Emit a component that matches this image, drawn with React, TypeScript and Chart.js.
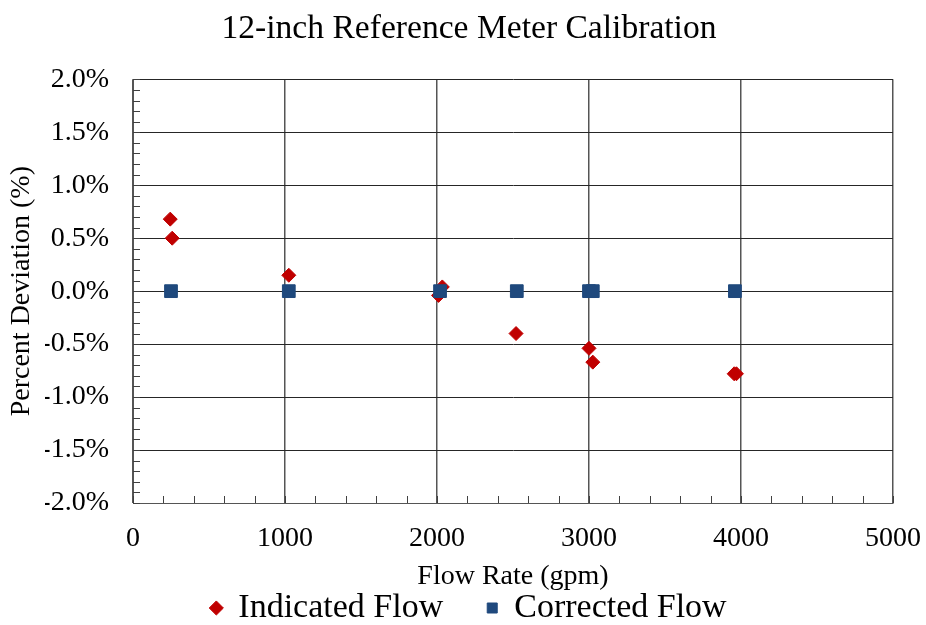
import React, { useEffect, useRef } from 'react';
import { Chart, registerables } from 'chart.js';

Chart.register(...registerables);

const TITLE = '12-inch Reference Meter Calibration';
const X_TITLE = 'Flow Rate (gpm)';
const Y_TITLE = 'Percent Deviation (%)';
const SERIES_NAMES = ['Indicated Flow', 'Corrected Flow'];

const indicatedFlow = [245, 258, 1025, 2010, 2035, 2520, 3000, 3025, 3955, 3970];
const indicatedDev = [0.68, 0.5, 0.15, -0.04, 0.04, -0.4, -0.54, -0.67, -0.78, -0.78];
const correctedFlow = [250, 1025, 2020, 2525, 3000, 3025, 3960];
const correctedDev = [0, 0, 0, 0, 0, 0, 0];

const X_MIN = 0;
const X_MAX = 5000;
const X_STEP = 1000;
const X_MINOR = 200;
const Y_MIN = -2;
const Y_MAX = 2;
const Y_STEP = 0.5;
const Y_MINOR = 0.1;

const FONT = '"Liberation Serif", "Times New Roman", serif';

const minorTicks = {
  id: 'minorTicks',
  afterDatasetsDraw(chart: any) {
    const { ctx, chartArea, scales } = chart;
    const x = scales.x;
    const y = scales.y;
    ctx.save();
    ctx.strokeStyle = '#404040';
    ctx.lineWidth = 1;
    ctx.beginPath();
    const ny = Math.round((Y_MAX - Y_MIN) / Y_MINOR);
    for (let i = 0; i <= ny; i++) {
      const v = Y_MIN + i * Y_MINOR;
      const py = Math.round(y.getPixelForValue(v)) + 0.5;
      ctx.moveTo(chartArea.left, py);
      ctx.lineTo(chartArea.left + 7, py);
    }
    const nx = Math.round((X_MAX - X_MIN) / X_MINOR);
    for (let i = 0; i <= nx; i++) {
      const v = X_MIN + i * X_MINOR;
      const px = Math.round(x.getPixelForValue(v)) + 0.5;
      ctx.moveTo(px, chartArea.bottom);
      ctx.lineTo(px, chartArea.bottom - 7);
    }
    ctx.stroke();
    ctx.restore();
  },
};

export default function App() {
  const ref = useRef<HTMLCanvasElement | null>(null);
  useEffect(() => {
    if (!ref.current) return;
    const chart = new Chart(ref.current, {
      type: 'scatter',
      data: {
        datasets: [
          {
            label: SERIES_NAMES[0],
            data: indicatedFlow.map((f, i) => ({ x: f, y: indicatedDev[i] })),
            pointStyle: 'rectRot',
            radius: 7,
            backgroundColor: '#C00000',
            borderColor: '#C00000',
            borderWidth: 1,
            order: 1,
          },
          {
            label: SERIES_NAMES[1],
            data: correctedFlow.map((f, i) => ({ x: f, y: correctedDev[i] })),
            pointStyle: 'rect',
            radius: 9,
            backgroundColor: '#1F497D',
            borderColor: '#1F497D',
            borderWidth: 1,
            order: 0,
          },
        ],
      },
      plugins: [minorTicks],
      options: {
        animation: false,
        responsive: false,
        maintainAspectRatio: false,
        layout: { padding: { left: 45, right: 33, top: 0, bottom: -10 } },
        plugins: {
          title: {
            display: true,
            text: TITLE,
            color: '#000',
            font: { family: FONT, size: 33.6, weight: 'normal' },
            padding: { top: 9, bottom: 30 },
          },
          legend: {
            position: 'bottom',
            labels: {
              usePointStyle: true,
              boxWidth: 10,
              boxHeight: 10,
              color: '#000',
              font: { family: FONT, size: 34 },
              padding: 44,
              sort: (a: any, b: any) => a.datasetIndex - b.datasetIndex,
            },
          },
          tooltip: { enabled: false },
        },
        scales: {
          x: {
            type: 'linear',
            min: X_MIN,
            max: X_MAX,
            afterFit: (s: any) => {
              s.height = 44;
            },
            ticks: {
              stepSize: X_STEP,
              color: '#000',
              font: { family: FONT, size: 28 },
              padding: 0,
              callback: (v: any) => String(v),
            },
            grid: { color: '#555555', lineWidth: 1.5, drawTicks: true, tickLength: 19, tickColor: 'rgba(0,0,0,0)' },
            border: { color: '#555555' },
            title: {
              display: true,
              text: X_TITLE,
              color: '#000',
              font: { family: FONT, size: 28 },
              padding: { top: 0, bottom: -46 },
            },
          },
          y: {
            type: 'linear',
            min: Y_MIN,
            max: Y_MAX,
            afterFit: (s: any) => {
              s.width = 88;
            },
            ticks: {
              stepSize: Y_STEP,
              color: '#000',
              font: { family: FONT, size: 28 },
              padding: 24,
              callback: (v: any) => Number(v).toFixed(1) + '%',
            },
            grid: { color: '#262626', drawTicks: false },
            border: { color: '#555555' },
            title: {
              display: true,
              text: Y_TITLE,
              color: '#000',
              font: { family: FONT, size: 28 },
              padding: { top: -40, bottom: 0 },
            },
          },
        },
      },
    } as any);
    return () => chart.destroy();
  }, []);
  return (
    <div style={{ position: 'absolute', left: 0, top: 0, width: 926, height: 625, background: '#fff' }}>
      <canvas ref={ref} width={926} height={625} />
    </div>
  );
}
